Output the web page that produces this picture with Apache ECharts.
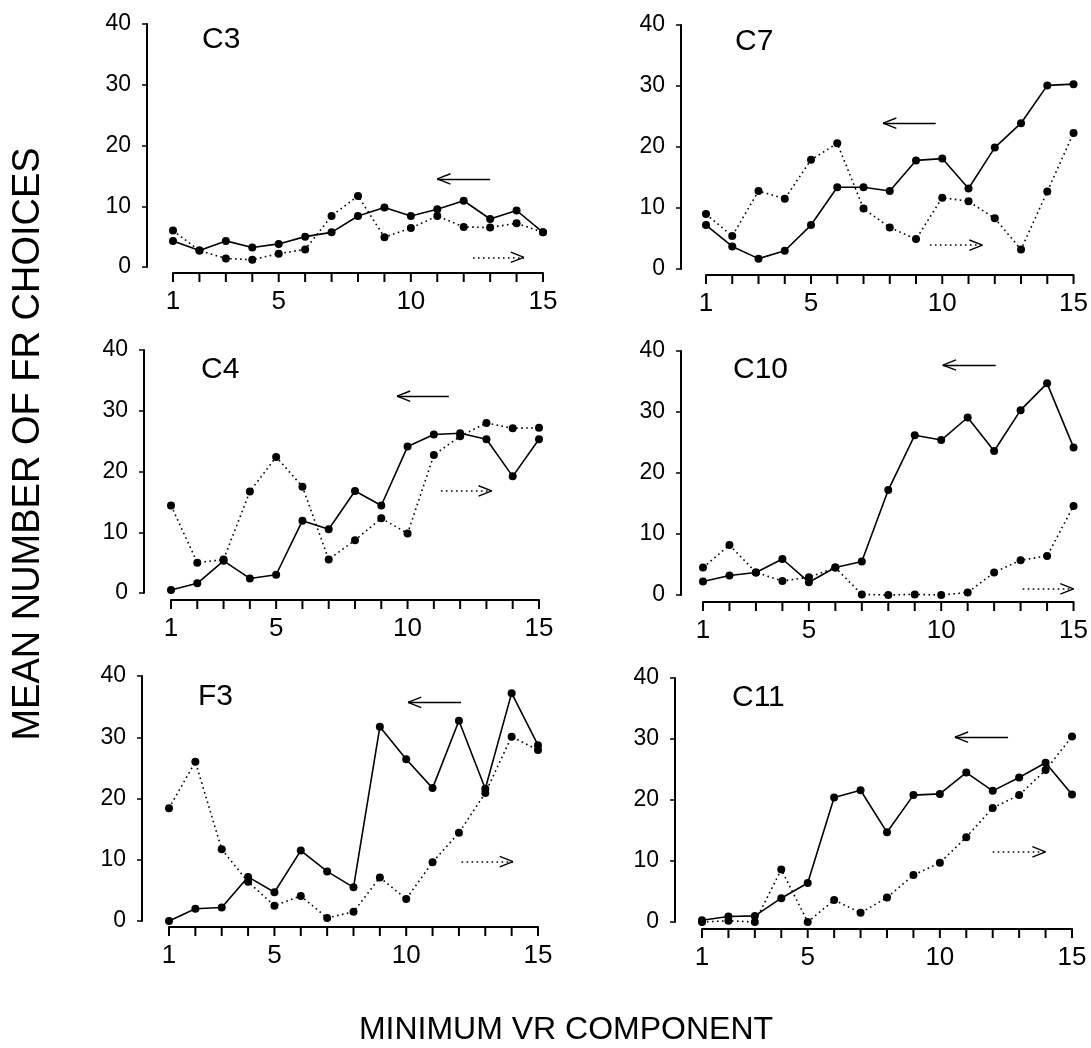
<!DOCTYPE html>
<html>
<head>
<meta charset="utf-8">
<script src="https://cdn.jsdelivr.net/npm/echarts@6.0.0/dist/echarts.min.js"></script>
<style>
  html, body { margin: 0; padding: 0; background: #fff; }
  #main { width: 1091px; height: 1048px; }
</style>
</head>
<body>
<div id="main"></div>
<script>
// minimum VR component (x) and mean number of FR choices (y)
var vrComponent = [1, 2, 3, 4, 5, 6, 7, 8, 9, 10, 11, 12, 13, 14, 15];
var xTickLabels = [1, 5, 10, 15];
var yTickLabels = [0, 10, 20, 30, 40];

// solid = descending (<-), dotted = ascending (->)
var c3Solid   = [4.3, 2.7, 4.3, 3.2, 3.8, 5.0, 5.7, 8.4, 9.8, 8.4, 9.5, 10.9, 7.9, 9.3, 5.7];
var c3Dotted  = [6.0, 2.7, 1.4, 1.2, 2.2, 2.9, 8.4, 11.7, 4.9, 6.4, 8.4, 6.6, 6.5, 7.2, 5.7];
var c7Solid   = [7.2, 3.7, 1.7, 3.0, 7.2, 13.4, 13.4, 12.8, 17.8, 18.1, 13.2, 19.9, 23.9, 30.1, 30.3];
var c7Dotted  = [9.0, 5.4, 12.8, 11.5, 17.9, 20.6, 9.9, 6.8, 4.9, 11.7, 11.1, 8.3, 3.2, 12.7, 22.3];
var c4Solid   = [0.5, 1.6, 5.3, 2.4, 3.0, 11.9, 10.5, 16.8, 14.4, 24.1, 26.1, 26.3, 25.3, 19.2, 25.3];
var c4Dotted  = [14.4, 5.0, 5.5, 16.7, 22.4, 17.5, 5.5, 8.7, 12.3, 9.8, 22.7, 25.8, 28.0, 27.1, 27.2];
var c10Solid  = [2.2, 3.2, 3.7, 5.9, 2.1, 4.5, 5.5, 17.2, 26.2, 25.4, 29.1, 23.6, 30.3, 34.7, 24.2];
var c10Dotted = [4.5, 8.2, 3.7, 2.3, 2.9, 4.5, 0.1, 0.0, 0.1, 0.0, 0.4, 3.7, 5.7, 6.4, 14.6];
var f3Solid   = [0.0, 2.0, 2.2, 7.2, 4.7, 11.5, 8.1, 5.5, 31.7, 26.4, 21.7, 32.7, 21.6, 37.2, 28.7];
var f3Dotted  = [18.4, 26.0, 11.7, 6.4, 2.5, 4.1, 0.5, 1.5, 7.1, 3.6, 9.6, 14.4, 20.9, 30.1, 27.9];
var c11Solid  = [0.3, 0.9, 1.0, 3.9, 6.4, 20.4, 21.6, 14.7, 20.8, 21.0, 24.5, 21.5, 23.7, 26.1, 20.9];
var c11Dotted = [0.0, 0.2, 0.0, 8.6, 0.0, 3.6, 1.5, 4.0, 7.7, 9.7, 13.9, 18.7, 20.8, 24.9, 30.4];

var FONT = '"Liberation Sans", Arial, sans-serif';

var panels = [
  { name: 'C3', solid: c3Solid, dotted: c3Dotted,
    grid: { left: 173, right: 548, top: 24, bottom: 781 }, yOff: 26, xOff: 6,
    title: [202, 25], solidArrow: [[13, 14.5], [11, 14.5]], dotArrow: [[12.35, 1.6], [14.28, 1.6]] },
  { name: 'C7', solid: c7Solid, dotted: c7Dotted,
    grid: { left: 706, right: 14, top: 25, bottom: 779 }, yOff: 25, xOff: 6,
    title: [735, 27], solidArrow: [[9.75, 23.9], [7.75, 23.9]], dotArrow: [[9.53, 3.9], [11.53, 3.9]] },
  { name: 'C4', solid: c4Solid, dotted: c4Dotted,
    grid: { left: 171, right: 552, top: 350, bottom: 455 }, yOff: 27, xOff: 7,
    title: [201, 355], solidArrow: [[11.57, 32.4], [9.6, 32.4]], dotArrow: [[11.27, 16.8], [13.2, 16.8]] },
  { name: 'C10', solid: c10Solid, dotted: c10Dotted,
    grid: { left: 703, right: 17, top: 351, bottom: 453 }, yOff: 22, xOff: 7,
    title: [733, 355], solidArrow: [[12.06, 37.7], [10.06, 37.7]], dotArrow: [[13.08, 1.0], [15.0, 1.0]] },
  { name: 'F3', solid: f3Solid, dotted: f3Dotted,
    grid: { left: 169, right: 553, top: 676, bottom: 127 }, yOff: 27, xOff: 6,
    title: [198, 682], solidArrow: [[12.08, 35.7], [10.07, 35.7]], dotArrow: [[12.1, 9.7], [14.05, 9.7]] },
  { name: 'C11', solid: c11Solid, dotted: c11Dotted,
    grid: { left: 702, right: 19, top: 678, bottom: 126 }, yOff: 27, xOff: 7,
    title: [732, 683], solidArrow: [[12.58, 30.3], [10.57, 30.3]], dotArrow: [[12.0, 11.5], [14.0, 11.5]] }
];

function pairs(values) {
  return vrComponent.map(function (x, i) { return [x, values[i]]; });
}

// shaft plus two short arms forming an open arrow head
function arrowLines(arrow) {
  var from = arrow[0], to = arrow[1];
  var back = from[0] > to[0] ? 0.5 : -0.5;
  var solidStyle = { type: 'solid', width: 1.4, color: '#000' };
  return [
    [{ coord: from }, { coord: to }],
    [{ coord: to, lineStyle: solidStyle }, { coord: [to[0] + back, to[1] + 0.85] }],
    [{ coord: to, lineStyle: solidStyle }, { coord: [to[0] + back, to[1] - 0.85] }]
  ];
}

// tick marks under the x axis line, one per component
function tickSeries(i, off) {
  return {
    type: 'custom', xAxisIndex: i, yAxisIndex: i, clip: false, silent: true, z: 5,
    data: vrComponent.map(function (x) { return [x, 0]; }),
    renderItem: function (params, api) {
      var pt = api.coord([api.value(0), 0]);
      return {
        type: 'line',
        shape: { x1: pt[0], y1: pt[1] + off, x2: pt[0], y2: pt[1] + off + 9 },
        style: { stroke: '#000', lineWidth: 2 }
      };
    }
  };
}

var grids = [], xAxes = [], yAxes = [], series = [], titles = [];

panels.forEach(function (p, i) {
  grids.push(p.grid);
  titles.push({
    text: p.name, left: p.title[0], top: p.title[1], padding: 0,
    textStyle: { fontFamily: FONT, fontSize: 30, fontWeight: 'normal', color: '#000' }
  });
  xAxes.push({
    type: 'value', gridIndex: i, min: 1, max: 15, interval: 1, offset: p.xOff,
    axisLine: { show: true, onZero: false, lineStyle: { color: '#000', width: 2 } },
    axisTick: { show: false },
    axisLabel: {
      show: true, margin: 16, fontFamily: FONT, fontSize: 26, color: '#000',
      formatter: function (v) { return xTickLabels.indexOf(v) >= 0 ? String(v) : ''; }
    },
    splitLine: { show: false }
  });
  yAxes.push({
    type: 'value', gridIndex: i, min: yTickLabels[0], max: yTickLabels[yTickLabels.length - 1],
    interval: 10, offset: p.yOff,
    axisLine: { show: true, onZero: false, lineStyle: { color: '#000', width: 2 } },
    axisTick: { show: true, length: 5, lineStyle: { color: '#000', width: 1.5 } },
    axisLabel: { margin: 16, fontFamily: FONT, fontSize: 23, color: '#000' },
    splitLine: { show: false }
  });
  series.push(tickSeries(i, p.xOff));
  series.push({
    type: 'line', xAxisIndex: i, yAxisIndex: i, data: pairs(p.solid), clip: false,
    symbol: 'circle', symbolSize: 8, itemStyle: { color: '#000' },
    lineStyle: { color: '#000', width: 1.6, type: 'solid' },
    markLine: {
      silent: true, symbol: 'none', label: { show: false },
      lineStyle: { color: '#000', width: 1.4, type: 'solid' },
      data: arrowLines(p.solidArrow)
    }
  });
  series.push({
    type: 'line', xAxisIndex: i, yAxisIndex: i, data: pairs(p.dotted), clip: false,
    symbol: 'circle', symbolSize: 8, itemStyle: { color: '#000' },
    lineStyle: { color: '#000', width: 1.6, type: [1.6, 3.4] },
    markLine: {
      silent: true, symbol: 'none', label: { show: false },
      lineStyle: { color: '#000', width: 1.6, type: [1.6, 3.4] },
      data: arrowLines(p.dotArrow)
    }
  });
});

var chart = echarts.init(document.getElementById('main'));
chart.setOption({
  backgroundColor: '#fff',
  animation: false,
  title: titles,
  grid: grids,
  xAxis: xAxes,
  yAxis: yAxes,
  series: series,
  graphic: [
    {
      type: 'text', x: 29, y: 444, rotation: Math.PI / 2,
      style: {
        text: 'MEAN NUMBER OF FR CHOICES', font: '38px ' + FONT, fill: '#000',
        textAlign: 'center', textVerticalAlign: 'middle'
      }
    },
    {
      type: 'text', x: 566, y: 1030,
      style: {
        text: 'MINIMUM VR COMPONENT', font: '32px ' + FONT, fill: '#000',
        textAlign: 'center', textVerticalAlign: 'middle'
      }
    }
  ]
});
</script>
</body>
</html>
